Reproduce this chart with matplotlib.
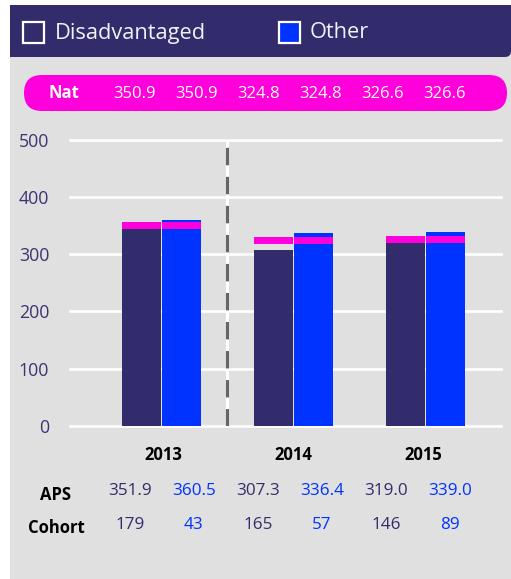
import numpy as np
import matplotlib
matplotlib.use('Agg')
import matplotlib.pyplot as plt
from matplotlib.patches import Rectangle, FancyBboxPatch

plt.rcParams['font.family'] = ['Open Sans', 'DejaVu Sans']

years = ['2013', '2014', '2015']
disadv_aps = [351.9, 307.3, 319.0]
other_aps = [360.5, 336.4, 339.0]
nat = [350.9, 324.8, 326.6]
disadv_cohort = [179, 165, 146]
other_cohort = [43, 57, 89]
yticks = [0, 100, 200, 300, 400, 500]

navy = '#322C6C'
blue = '#0033FF'
magenta = '#FF00DD'
grey = '#E0E0E0'

W, H = 511, 579
fig = plt.figure(figsize=(W/100, H/100), dpi=100)
fig.patch.set_facecolor('white')

# background layer in pixel coordinates
bg = fig.add_axes([0, 0, 1, 1])
bg.set_xlim(0, W)
bg.set_ylim(H, 0)
bg.axis('off')
bg.add_patch(Rectangle((10, 5), W-10, H-5, color=grey, lw=0))
bg.add_patch(FancyBboxPatch((10, 5), W-10, 52, boxstyle='round,pad=0,rounding_size=6', color=navy, lw=0))
bg.add_patch(Rectangle((10, 5), W-22, 52, color=navy, lw=0))
bg.add_patch(Rectangle((10, 5), W-10, 40, color=navy, lw=0))

# legend
bg.add_patch(Rectangle((23, 22), 21, 21, facecolor=navy, edgecolor='white', lw=1.6))
bg.text(55, 33, 'Disadvantaged', color='#F2F2F6', fontsize=15.7, va='center', ha='left')
bg.add_patch(Rectangle((278.5, 22), 21, 21, facecolor=blue, edgecolor='white', lw=1.6))
bg.text(310, 33, 'Other', color='#F2F2F6', fontsize=15.7, va='center', ha='left')

# national pill
bg.add_patch(FancyBboxPatch((24, 75), 483, 36, boxstyle='round,pad=0,rounding_size=18', color=magenta, lw=0))
bg.text(64, 93, 'Nat', color='white', fontsize=12, fontweight='bold', ha='center', va='center')
nat_pairs = [v for v in nat for _ in range(2)]
for i, v in enumerate(nat_pairs):
    bg.text(135 + 62*i, 94, '%.1f' % v, color='white', fontsize=12, ha='center', va='center')

# table below chart
for i, y in enumerate(years):
    bg.text(163 + 130*i, 455, y, color='black', fontsize=12, fontweight='bold', ha='center', va='center')
bg.text(56, 495, 'APS', color='black', fontsize=12, fontweight='bold', ha='center', va='center')
bg.text(56, 528, 'Cohort', color='black', fontsize=12, fontweight='bold', ha='center', va='center')
for i in range(3):
    x0 = 130 + 128*i
    bg.text(x0, 491, '%.1f' % disadv_aps[i], color=navy, fontsize=12.3, ha='center', va='center')
    bg.text(x0 + 64, 491, '%.1f' % other_aps[i], color=blue, fontsize=12.3, ha='center', va='center')
    bg.text(x0, 525, str(disadv_cohort[i]), color=navy, fontsize=12.3, ha='center', va='center')
    bg.text(x0 + 64, 525, str(other_cohort[i]), color=blue, fontsize=12.3, ha='center', va='center')

# main chart
left, right, top, bottom = 70, 501, 140, 425.7
ax = fig.add_axes([left/W, (H-bottom)/H, (right-left)/W, (bottom-top)/H])
ax.patch.set_alpha(0)
ax.set_xlim(-0.693, 2.572)
ax.set_ylim(0, 500)
for s in ax.spines.values():
    s.set_visible(False)
ax.set_xticks([])
ax.set_yticks(yticks)
ax.tick_params(axis='y', length=0, pad=15, labelsize=12.8, labelcolor='#3A3472')
for t in yticks:
    ax.axhline(t, color='white', lw=1.9, zorder=0, clip_on=False)

x = np.arange(3)
bw = 0.295
off = 0.152
ax.bar(x - off, disadv_aps, bw, color=navy, zorder=2)
ax.bar(x + off, other_aps, bw, color=blue, zorder=2)
nat_arr = np.array(nat)
ax.bar(x - off, 12, bw, bottom=nat_arr - 6, color=magenta, zorder=3)
ax.bar(x + off, 12, bw, bottom=nat_arr - 6, color=magenta, zorder=3)

ax.axvline(0.5, color='white', lw=2.2, zorder=1)
ax.axvline(0.5, color='#666666', lw=2.2, dashes=(5.7, 3.8), zorder=1)

fig.savefig('out.png', dpi=100, facecolor='white')
